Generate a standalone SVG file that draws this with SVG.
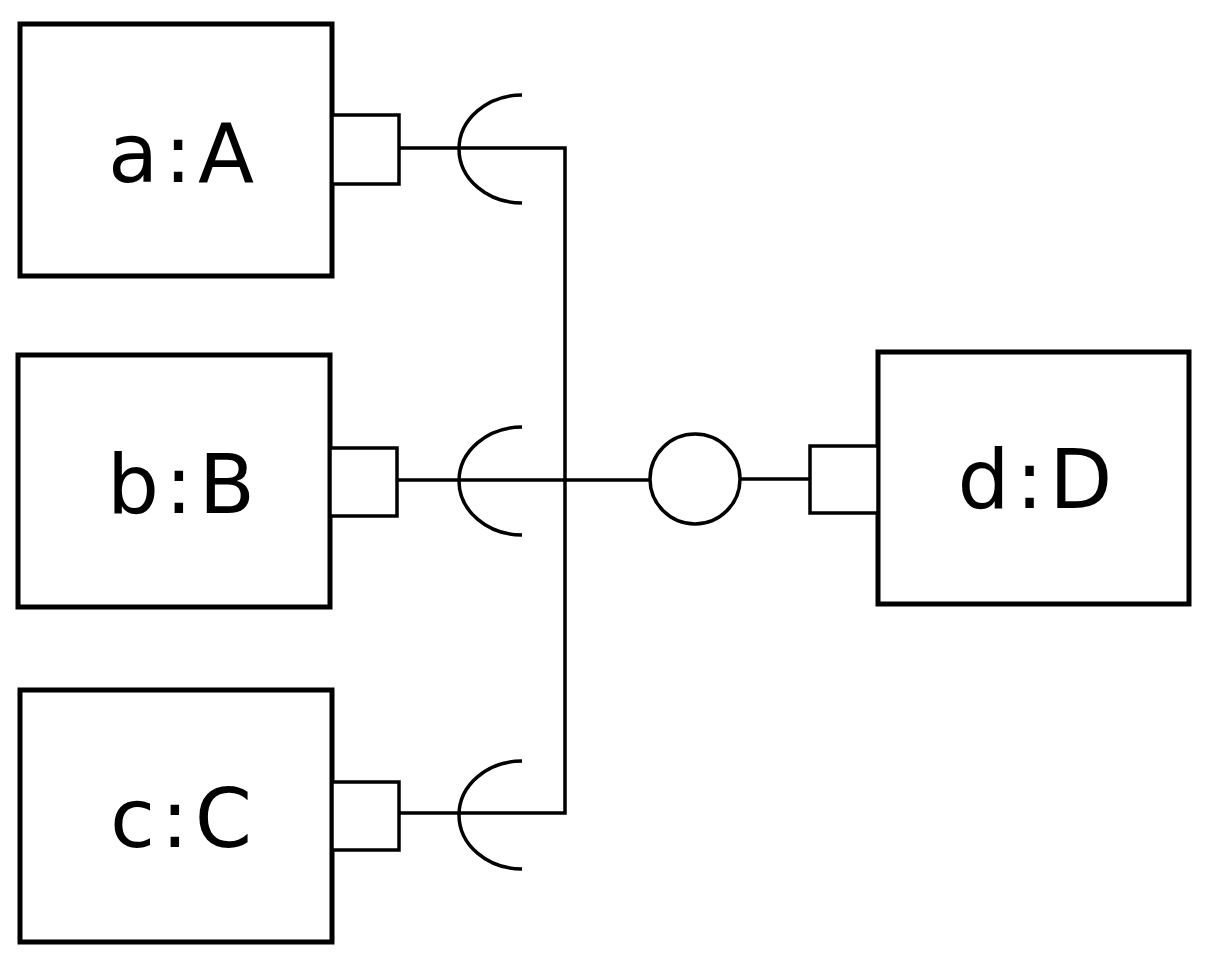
<svg xmlns="http://www.w3.org/2000/svg" width="1211" height="969" viewBox="0 0 1211 969">
<style>
.box{fill:#fff;stroke:#000;stroke-width:5}
.port{fill:#fff;stroke:#000;stroke-width:3.5}
.ln{fill:none;stroke:#000;stroke-width:3.5}
text{font-family:"DejaVu Sans",sans-serif;font-size:82px;letter-spacing:6px;text-anchor:middle}
</style>
<rect width="1211" height="969" fill="#fff"/>
<g id="connectors">
<path class="ln" d="M399 148H565V813H399M397 480H650M740 479H810"/>
<path class="ln" d="M522 95A63 54 0 0 0 522 203"/>
<path class="ln" d="M522 427A63 54 0 0 0 522 535"/>
<path class="ln" d="M522 761A63 54 0 0 0 522 869"/>
<circle class="ln" cx="695" cy="479" r="45" fill="#fff"/>
</g>
<g id="a"><rect class="box" x="20" y="24" width="312" height="252"/><rect class="port" x="332" y="115" width="67" height="69"/><text x="184" y="182">a:A</text></g>
<g id="b"><rect class="box" x="18" y="355" width="312" height="252"/><rect class="port" x="330" y="448" width="67" height="68"/><text x="184" y="513">b:B</text></g>
<g id="c"><rect class="box" x="20" y="690" width="312" height="252"/><rect class="port" x="332" y="782" width="67" height="68"/><text x="184" y="847">c:C</text></g>
<g id="d"><rect class="box" x="878" y="352" width="311" height="252"/><rect class="port" x="810" y="446" width="68" height="67"/><text x="1038" y="508">d:D</text></g>
</svg>
